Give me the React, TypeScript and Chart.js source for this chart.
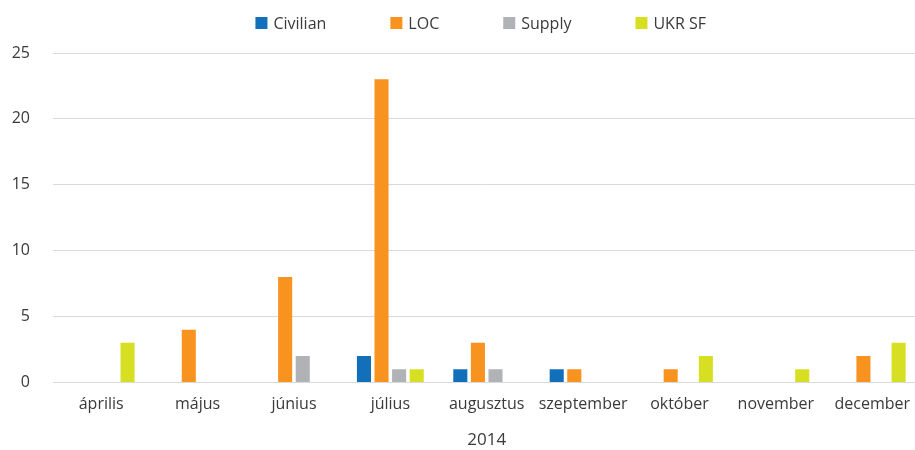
import React, { useEffect, useRef } from "react";
import { Chart, registerables } from "chart.js";
Chart.register(...registerables);

const categories = ["április", "május", "június", "július", "augusztus", "szeptember", "október", "november", "december"];
const civilian = [0, 0, 0, 2, 1, 1, 0, 0, 0];
const loc = [0, 4, 8, 23, 3, 1, 1, 0, 2];
const supply = [0, 0, 2, 1, 1, 0, 0, 0, 0];
const ukrSf = [3, 0, 0, 1, 0, 0, 2, 1, 3];
const seriesNames = ["Civilian", "LOC", "Supply", "UKR SF"];
const seriesColors = ["#1170B9", "#F7931E", "#B1B2B5", "#D7DF23"];
const yMax = 25;
const yStep = 5;
const xTitle = "2014";

const FONT = "'Open Sans', 'Noto Sans', sans-serif";
const TEXT = "#3a3a3a";

const legendPlugin = {
  id: "customLegend",
  afterDraw(chart: any) {
    const ctx = chart.ctx;
    const ds = chart.data.datasets;
    ctx.save();
    ctx.font = `16px ${FONT}`;
    const box = 12;
    const boxGap = 6;
    const itemGap = 64;
    const widths = ds.map((d: any) => box + boxGap + ctx.measureText(d.label).width);
    const total = widths.reduce((a: number, b: number) => a + b, 0) + itemGap * (ds.length - 1);
    const center = (chart.chartArea.left + chart.chartArea.right) / 2 - 6;
    let x = center - total / 2;
    const y = 23;
    ds.forEach((d: any, i: number) => {
      ctx.fillStyle = d.backgroundColor;
      ctx.fillRect(x, y - box / 2, box, box);
      ctx.fillStyle = TEXT;
      ctx.textBaseline = "middle";
      ctx.textAlign = "left";
      ctx.fillText(d.label, x + box + boxGap, y + 1);
      x += widths[i] + itemGap;
    });
    ctx.restore();
  },
};

export default function App() {
  const ref = useRef<HTMLCanvasElement | null>(null);
  useEffect(() => {
    if (!ref.current) return;
    const values = [civilian, loc, supply, ukrSf];
    const chart = new Chart(ref.current, {
      type: "bar",
      data: {
        labels: categories,
        datasets: seriesNames.map((name, i) => ({
          label: name,
          data: values[i],
          backgroundColor: seriesColors[i],
          borderWidth: 0,
          categoryPercentage: 0.73,
          barPercentage: 0.8,
        })),
      },
      options: {
        animation: false,
        responsive: true,
        maintainAspectRatio: false,
        layout: { padding: { top: 53, right: 0, left: 0, bottom: 0 } },
        plugins: {
          legend: { display: false },
          tooltip: { enabled: false },
        },
        scales: {
          x: {
            grid: { display: false, drawTicks: false },
            border: { display: false },
            ticks: { font: { family: FONT, size: 16 }, color: TEXT, padding: 12, maxRotation: 0, autoSkip: false },
            title: { display: true, text: xTitle, font: { family: FONT, size: 17 }, color: TEXT, padding: { top: 4, bottom: 0 } },
          },
          y: {
            min: 0,
            max: yMax,
            ticks: { stepSize: yStep, font: { family: FONT, size: 16 }, color: TEXT, padding: 23 },
            grid: { color: "#d9d9d9", lineWidth: 1, drawTicks: false },
            border: { display: false },
            afterFit: (s: any) => { s.width = 53; },
          },
        },
      },
      plugins: [legendPlugin],
    });
    return () => chart.destroy();
  }, []);
  return (
    <div style={{ position: "fixed", left: 0, top: 0, width: 915, height: 450, overflow: "hidden", background: "#fff" }}>
      <div style={{ position: "relative", width: 922, height: 450 }}>
        <canvas ref={ref} />
      </div>
    </div>
  );
}
